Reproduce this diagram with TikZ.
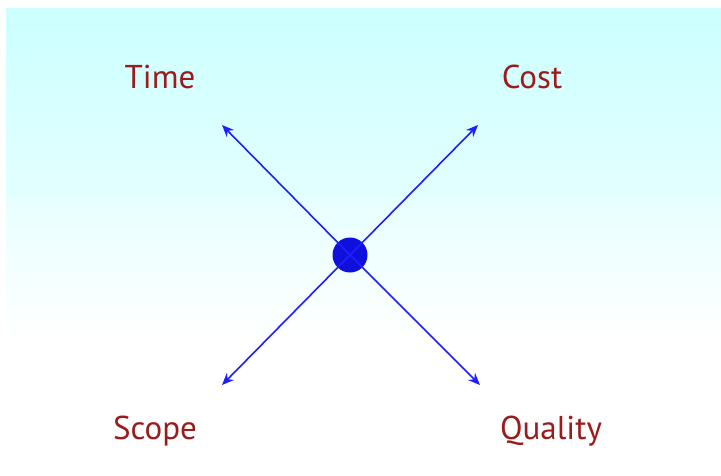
\documentclass[tikz,border=0pt]{standalone}
\usepackage{fontspec}
\setmainfont{PT Sans}
\usepackage{xcolor}
\usetikzlibrary{arrows.meta}

\definecolor{skycyan}{HTML}{CCFFFF}
\definecolor{labelred}{HTML}{9A1C1C}
\definecolor{arrowblue}{HTML}{1E1EFF}
\definecolor{hubblue}{HTML}{1010DD}

\begin{document}
\begin{tikzpicture}[
		x=1pt, y=-1pt,
		line width=1.6pt,
		every node/.style={text=labelred, font=\fontsize{33}{37}\selectfont},
		axis/.style={arrowblue, -{Stealth[length=12pt, width=10pt]}},
		hub/.style={circle, fill=hubblue, minimum size=35pt, inner sep=0pt}
		]
	
	% Frame
	\useasboundingbox (0, 0) rectangle (721, 475);
	\shade[top color=skycyan, bottom color=white, middle color=skycyan!45] (6, 8) rectangle (721, 475);
	\fill[white] (6, 340) rectangle (721, 475);
	\shade[top color=skycyan!45, bottom color=white] (6, 200) rectangle (721, 341);
	
	% Centre
	\node[hub] (hub) at (350, 255) {};
	
	% Arrow ends
	\coordinate (time end) at (222, 125);
	\coordinate (cost end) at (478, 125);
	\coordinate (scope end) at (222, 385);
	\coordinate (quality end) at (480, 385);
	
	% Labels
	\node (time) at (160, 77) {Time};
	\node (cost) at (532, 77) {Cost};
	\node (scope) at (155, 431) {Scope};
	\node (quality) at (551, 431) {Quality};
	
	% Axes
	\foreach \e in {time end, cost end, scope end, quality end}{
		\draw[axis] (hub.center) -- (\e);
	}
	
	\end{tikzpicture}
\end{document}
